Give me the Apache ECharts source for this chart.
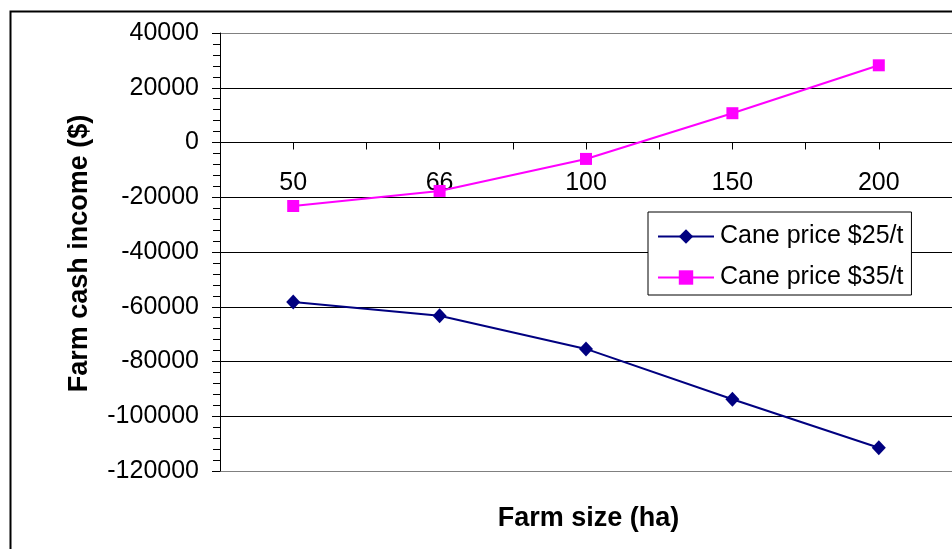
<!DOCTYPE html>
<html>
<head>
<meta charset="utf-8">
<script src="https://cdn.jsdelivr.net/npm/echarts@6/dist/echarts.min.js"></script>
<style>
  html, body { margin: 0; padding: 0; background: #fff; }
  #chart { width: 952px; height: 549px; }
</style>
</head>
<body>
<div id="chart"></div>
<script>
// Farm size categories (ha)
const farmSizes = ['50', '66', '100', '150', '200'];
// Farm cash income ($) for each cane price
const income25 = [-58300, -63300, -75400, -93800, -111500];
const income35 = [-23200, -17700, -6000, 10700, 28200];
const seriesNames = ['Cane price $25/t', 'Cane price $35/t'];
// Value axis bounds and step for the income axis
const yMin = -120000, yMax = 40000, yStep = 20000;

const FONT = "'Liberation Sans', Arial, sans-serif";

// Split lines: grey at the plot edges, black inside
const splitColors = [];
for (let v = yMin; v <= yMax; v += yStep) {
  splitColors.push(v === yMin || v === yMax ? '#808080' : '#000000');
}

const PLOT = { left: 220, top: 33, width: 737, height: 438 };

const chart = echarts.init(document.getElementById('chart'), null, { renderer: 'canvas' });

// Main plot: value axis, gridlines and the two lines
chart.setOption({
  animation: false,
  backgroundColor: '#ffffff',
  textStyle: { fontFamily: FONT },
  grid: [Object.assign({ show: false }, PLOT)],
  xAxis: [{
    type: 'category',
    gridIndex: 0,
    data: farmSizes,
    boundaryGap: true,
    show: false
  }],
  yAxis: [{
    type: 'value',
    gridIndex: 0,
    min: yMin,
    max: yMax,
    interval: yStep,
    axisLine: { show: true, onZero: false, lineStyle: { color: '#000', width: 1 } },
    axisTick: { show: true, length: 8, lineStyle: { color: '#000' } },
    minorTick: { show: true, splitNumber: 5, length: 7, lineStyle: { color: '#000' } },
    splitLine: { show: true, lineStyle: { color: splitColors, width: 1 } },
    axisLabel: {
      color: '#000', fontSize: 25, fontFamily: FONT, margin: 21,
      formatter: v => String(v)
    }
  }],
  legend: {
    left: 648,
    top: 212,
    orient: 'vertical',
    backgroundColor: '#ffffff',
    borderColor: '#000000',
    borderWidth: 1,
    padding: [12, 8, 5, 9],
    itemWidth: 56,
    itemHeight: 18,
    itemGap: 16,
    textStyle: { color: '#000', fontSize: 25, fontFamily: FONT, padding: [0, 0, 0, 1] },
    data: seriesNames
  },
  series: [
    {
      name: seriesNames[0],
      type: 'line',
      xAxisIndex: 0,
      yAxisIndex: 0,
      data: income25,
      symbol: 'diamond',
      symbolSize: [14, 15],
      itemStyle: { color: '#000080' },
      lineStyle: { color: '#000080', width: 2 },
      z: 5
    },
    {
      name: seriesNames[1],
      type: 'line',
      xAxisIndex: 0,
      yAxisIndex: 0,
      data: income35,
      symbol: 'rect',
      symbolSize: 12,
      itemStyle: { color: '#ff00ff' },
      lineStyle: { color: '#ff00ff', width: 2 },
      z: 5
    }
  ],
  graphic: [
    {
      type: 'rect',
      left: 8, top: 9,
      shape: { x: 0, y: 0, width: 980, height: 600 },
      style: { fill: 'none', stroke: '#000', lineWidth: 2 },
      silent: true,
      z: 100
    },
    {
      type: 'text',
      x: 588.5, y: 519,
      style: {
        text: 'Farm size (ha)',
        font: "bold 27px " + FONT,
        fill: '#000',
        textAlign: 'center',
        textVerticalAlign: 'middle'
      }
    },
    {
      type: 'text',
      x: 80, y: 253.5,
      rotation: Math.PI / 2,
      style: {
        text: 'Farm cash income ($)',
        font: "bold 27px " + FONT,
        fill: '#000',
        textAlign: 'center',
        textVerticalAlign: 'middle'
      }
    }
  ]
});

// The category axis crosses the value axis at 0: two extra grids end exactly
// at the pixel row of zero, so their bottom axes sit on that line.
const zeroY = chart.convertToPixel({ yAxisIndex: 0 }, 0);
const upper = { left: PLOT.left, top: PLOT.top, width: PLOT.width, height: zeroY - PLOT.top, show: false };

chart.setOption({
  grid: [Object.assign({ show: false }, PLOT), Object.assign({}, upper), Object.assign({}, upper)],
  xAxis: [
    {
      type: 'category',
      gridIndex: 0,
      data: farmSizes,
      boundaryGap: true,
      show: false
    },
    {
      // axis line, boundary ticks and category labels
      type: 'category',
      gridIndex: 1,
      position: 'bottom',
      data: farmSizes,
      boundaryGap: true,
      axisLine: { show: true, onZero: false, lineStyle: { color: '#000', width: 1 } },
      axisTick: { show: true, length: 7, alignWithLabel: false, interval: 0, lineStyle: { color: '#000' } },
      splitLine: { show: false },
      axisLabel: { color: '#000', fontSize: 25, fontFamily: FONT, margin: 28, interval: 0 },
      z: 3
    },
    {
      // tick marks at the category centres
      type: 'category',
      gridIndex: 2,
      position: 'bottom',
      data: farmSizes,
      boundaryGap: true,
      axisLine: { show: false, onZero: false },
      axisTick: { show: true, length: 7, alignWithLabel: true, interval: 0, lineStyle: { color: '#000' } },
      splitLine: { show: false },
      axisLabel: { show: false },
      z: 3
    }
  ],
  yAxis: [
    {},
    { type: 'value', gridIndex: 1, min: 0, max: 1, show: false },
    { type: 'value', gridIndex: 2, min: 0, max: 1, show: false }
  ]
});
</script>
</body>
</html>
